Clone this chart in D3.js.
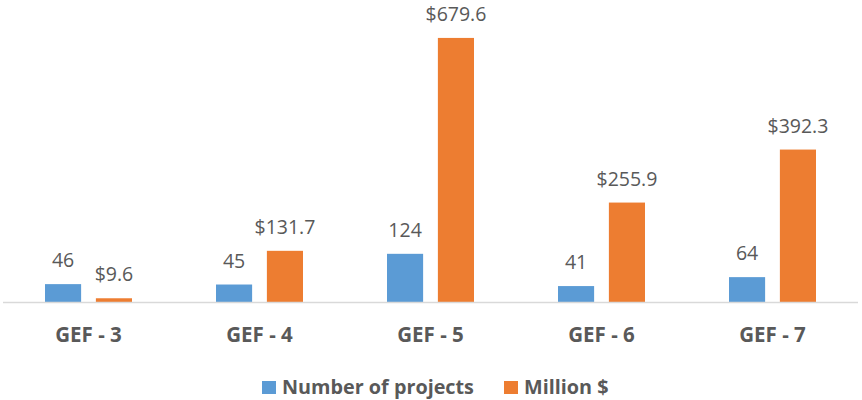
<!DOCTYPE html>
<html>
<head>
<meta charset="utf-8">
<script src="https://cdn.jsdelivr.net/npm/d3@7"></script>
<style>
  body { margin: 0; background: #fff; }
  text { font-family: "Open Sans", sans-serif; fill: #595959; }
</style>
</head>
<body>
<div id="chart"></div>
<script>
const categories = ['GEF - 3', 'GEF - 4', 'GEF - 5', 'GEF - 6', 'GEF - 7'];
const projects = [46, 45, 124, 41, 64];
const millions = [9.6, 131.7, 679.6, 255.9, 392.3];
const seriesNames = ['Number of projects', 'Million $'];

const width = 862, height = 400;
const colors = ['#5b9bd5', '#ed7d31'];

const svg = d3.select('#chart').append('svg')
  .attr('width', width).attr('height', height);

const x = d3.scaleBand().domain(categories).range([3, 858]).paddingInner(0).paddingOuter(0);
const x1 = d3.scaleBand().domain([0, 1]).range([x.bandwidth() / 2 - 43.5, x.bandwidth() / 2 + 43.5]).paddingInner(0.29);
const y = d3.scaleLinear().domain([0, 700]).range([302, 30]);

const rows = categories.map((c, i) => ({ cat: c, vals: [projects[i], millions[i]] }));
const fmt = [d => String(d), d => '$' + d3.format('.1f')(d)];

const g = svg.selectAll('.grp').data(rows).enter().append('g')
  .attr('transform', d => `translate(${x(d.cat)},0)`);

g.selectAll('rect').data(d => d.vals.map((v, s) => ({ v, s }))).enter().append('rect')
  .attr('x', d => x1(d.s))
  .attr('width', x1.bandwidth())
  .attr('y', d => y(d.v))
  .attr('height', d => y(0) - y(d.v))
  .attr('fill', d => colors[d.s]);

g.selectAll('.lbl').data(d => d.vals.map((v, s) => ({ v, s }))).enter().append('text')
  .attr('x', d => x1(d.s) + x1.bandwidth() / 2)
  .attr('y', d => y(d.v) - 17)
  .attr('text-anchor', 'middle')
  .style('font-size', '19.5px')
  .text(d => fmt[d.s](d.v));

// baseline
svg.append('line')
  .attr('x1', 3).attr('x2', 858)
  .attr('y1', y(0) + 0.5).attr('y2', y(0) + 0.5)
  .attr('stroke', '#d9d9d9').attr('stroke-width', 1.5);

const xAxis = svg.append('g').attr('transform', `translate(0,${y(0)})`)
  .call(d3.axisBottom(x).tickSize(0).tickPadding(0));
xAxis.select('.domain').remove();
xAxis.selectAll('text')
  .attr('dy', null)
  .attr('y', 40)
  .style('font-family', '"Open Sans", sans-serif')
  .style('font-size', '20.5px')
  .style('font-weight', 'bold')
  .attr('fill', '#595959');

// legend
const legend = svg.append('g');
const legX = [262, 504];
seriesNames.forEach((n, i) => {
  legend.append('rect').attr('x', legX[i]).attr('y', 381).attr('width', 14).attr('height', 13).attr('fill', colors[i]);
  legend.append('text').attr('x', legX[i] + 20).attr('y', 394)
    .style('font-size', '19.8px').style('font-weight', 'bold').text(n);
});
</script>
</body>
</html>
